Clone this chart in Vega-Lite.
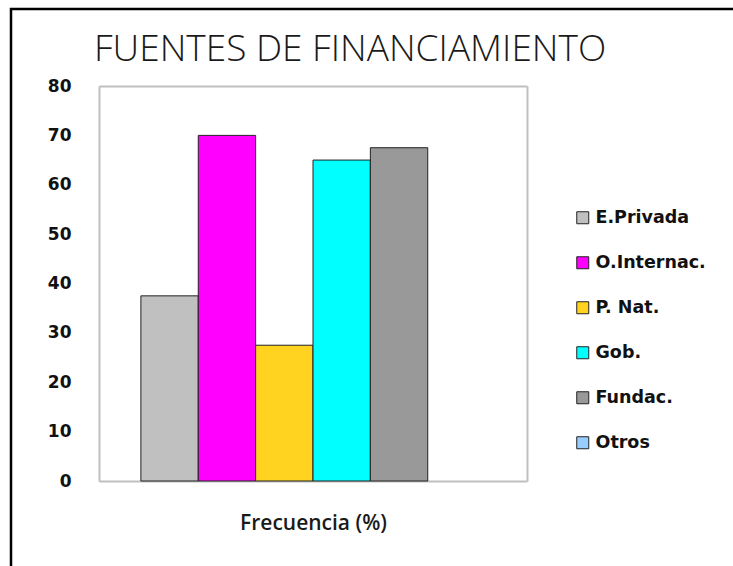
{
  "$schema": "https://vega.github.io/schema/vega-lite/v6.json",
  "autosize": "none",
  "padding": {"left": 11, "top": 9, "right": 0, "bottom": 0},
  "width": 724,
  "height": 560,
  "background": "white",
  "title": {
    "text": "FUENTES DE FINANCIAMIENTO",
    "font": "Open Sans",
    "fontWeight": 300,
    "fontSize": 37,
    "color": "#1a1a1a",
    "anchor": "start",
    "frame": "group",
    "baseline": "alphabetic",
    "offset": 0,
    "dx": 83,
    "dy": 89
  },
  "config": {
    "view": {"stroke": "black", "strokeWidth": 2.5},
    "axis": {"grid": false, "ticks": false, "domainColor": "#BFBFBF", "domainWidth": 2}
  },
  "data": {
    "values": [
      {"fuente": "E.Privada", "valor": 37.5},
      {"fuente": "O.Internac.", "valor": 70},
      {"fuente": "P. Nat.", "valor": 27.5},
      {"fuente": "Gob.", "valor": 65},
      {"fuente": "Fundac.", "valor": 67.5},
      {"fuente": "Otros", "valor": 0}
    ]
  },
  "layer": [
    {
      "mark": {"type": "bar", "stroke": "#222222", "strokeWidth": 1},
      "encoding": {
        "x": {
          "field": "fuente",
          "type": "nominal",
          "sort": null,
          "scale": {"range": [88, 516], "paddingInner": 0, "paddingOuter": 0.73},
          "axis": {
            "orient": "bottom",
            "offset": -88,
            "labels": false,
            "title": "Frecuencia (%)",
            "titleFont": "Open Sans",
            "titleFontWeight": 600,
            "titleFontSize": 21,
            "titleColor": "#1a1a1a",
            "titlePadding": 31
          }
        },
        "y": {
          "field": "valor",
          "type": "quantitative",
          "scale": {"domain": [0, 80], "range": [472, 77], "nice": false},
          "axis": {
            "orient": "left",
            "offset": -88,
            "values": [0, 10, 20, 30, 40, 50, 60, 70, 80],
            "labelFont": "DejaVu Sans",
            "labelFontWeight": "bold",
            "labelFontSize": 17,
            "labelColor": "#111111",
            "labelPadding": 28,
            "title": null
          }
        },
        "strokeOpacity": {
          "condition": {"test": "datum.valor > 0", "value": 1},
          "value": 0
        },
        "color": {
          "field": "fuente",
          "type": "nominal",
          "sort": null,
          "scale": {
            "domain": ["E.Privada", "O.Internac.", "P. Nat.", "Gob.", "Fundac.", "Otros"],
            "range": ["#C0C0C0", "#FF00FF", "#FFD320", "#00FFFF", "#999999", "#99CCFF"]
          },
          "legend": {
            "title": null,
            "orient": "none",
            "legendX": 563,
            "legendY": 200,
            "padding": 0,
            "symbolType": "square",
            "symbolSize": 144,
            "symbolStrokeColor": "#222222",
            "symbolStrokeWidth": 1,
            "symbolOpacity": 1,
            "labelFont": "DejaVu Sans",
            "labelFontWeight": "bold",
            "labelFontSize": 17.5,
            "labelColor": "#111111",
            "labelOffset": 4,
            "rowPadding": 26
          }
        }
      }
    },
    {
      "mark": {"type": "bar", "opacity": 0},
      "encoding": {
        "x": {
          "field": "fuente",
          "type": "nominal",
          "sort": null,
          "axis": {"orient": "top", "offset": -77, "labels": false, "title": null}
        },
        "y": {
          "field": "valor",
          "type": "quantitative",
          "axis": {"orient": "right", "offset": -208, "labels": false, "title": null}
        }
      }
    }
  ],
  "resolve": {"axis": {"x": "independent", "y": "independent"}}
}
